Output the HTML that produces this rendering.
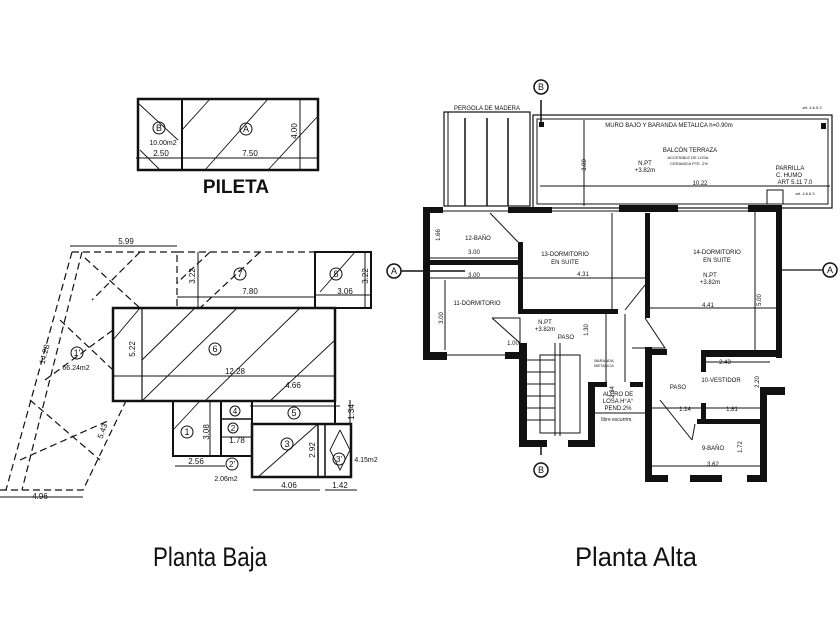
<!DOCTYPE html>
<html><head><meta charset="utf-8"><style>
html,body{margin:0;padding:0;background:#fff}
svg{display:block}
text{font-family:"Liberation Sans",sans-serif;fill:#111}
</style></head><body>
<svg width="840" height="630" viewBox="0 0 840 630" xmlns="http://www.w3.org/2000/svg">
<g stroke="#111" fill="none">
<!-- PILETA -->
<rect x="138" y="99" width="180" height="71" stroke-width="2.5"/>
<line x1="182" y1="99" x2="182" y2="170" stroke-width="2"/>
<line x1="136" y1="158" x2="318" y2="158" stroke-width="1"/>
<line x1="300" y1="99" x2="300" y2="170" stroke-width="1"/>
<g stroke-width="0.9">
<line x1="138" y1="103" x2="178" y2="140"/><line x1="160" y1="170" x2="140" y2="150"/>
<line x1="182" y1="130" x2="210" y2="99"/><line x1="205" y1="170" x2="268" y2="99"/>
<line x1="268" y1="170" x2="318" y2="116"/>
</g>
<circle cx="159" cy="128" r="6" stroke-width="1"/>
<circle cx="246" cy="129" r="6" stroke-width="1"/>
<!-- Planta baja -->
<g stroke-width="1.2" stroke-dasharray="7,4">
<polyline points="72,252 177,252"/>
<polyline points="72,252 6,490"/>
<polyline points="82,252 22,490"/>
<polyline points="0,490 83,490 126,401"/>
<polyline points="113,308 177,308 177,252"/>
<polyline points="177,252 315,252"/>
<line x1="85" y1="258" x2="140" y2="308"/><line x1="140" y1="252" x2="92" y2="300"/>
<line x1="60" y1="320" x2="113" y2="370"/><line x1="45" y1="380" x2="113" y2="330"/>
<line x1="30" y1="400" x2="100" y2="460"/><line x1="20" y1="460" x2="110" y2="420"/>
<line x1="260" y1="252" x2="200" y2="308"/><line x1="210" y1="252" x2="177" y2="283"/>
</g>
<rect x="315" y="252" width="56" height="56" stroke-width="2"/>
<line x1="315" y1="295" x2="371" y2="295" stroke-width="1"/>
<line x1="365" y1="252" x2="365" y2="308" stroke-width="1"/>
<line x1="320" y1="292" x2="355" y2="252" stroke-width="0.9"/>
<line x1="198" y1="252" x2="198" y2="308" stroke-width="1"/>
<line x1="177" y1="297" x2="315" y2="297" stroke-width="1"/>
<rect x="113" y="308" width="222" height="93" stroke-width="2.5"/>
<line x1="142" y1="308" x2="142" y2="401" stroke-width="1.2"/>
<line x1="113" y1="376" x2="335" y2="376" stroke-width="1"/>
<g stroke-width="0.9">
<line x1="142" y1="360" x2="195" y2="308"/><line x1="142" y1="401" x2="237" y2="308"/>
<line x1="205" y1="401" x2="300" y2="308"/><line x1="270" y1="401" x2="335" y2="340"/>
<line x1="113" y1="340" x2="140" y2="308"/>
</g>
<rect x="173" y="401" width="48" height="55" stroke-width="2"/>
<line x1="210" y1="401" x2="210" y2="456" stroke-width="1"/>
<line x1="173" y1="430" x2="200" y2="401" stroke-width="0.9"/>
<rect x="221" y="401" width="31" height="55" stroke-width="2"/>
<line x1="221" y1="419" x2="252" y2="419" stroke-width="1.5"/>
<line x1="221" y1="437" x2="252" y2="437" stroke-width="1"/>
<rect x="252" y="401" width="83" height="23" stroke-width="2"/>
<rect x="252" y="424" width="99" height="53" stroke-width="2.5"/>
<line x1="318" y1="424" x2="318" y2="477" stroke-width="1.5"/>
<line x1="325" y1="424" x2="325" y2="477" stroke-width="1.5"/>
<line x1="258" y1="477" x2="318" y2="424" stroke-width="0.9"/>
<polyline points="340,430 350,450 340,470 330,450 340,430" stroke-width="0.9"/>
<line x1="250" y1="406" x2="340" y2="406" stroke-width="1"/>
<line x1="175" y1="466" x2="225" y2="466" stroke-width="1"/>
<line x1="253" y1="490" x2="320" y2="490" stroke-width="1"/>
<line x1="325" y1="490" x2="357" y2="490" stroke-width="1"/>
<line x1="70" y1="246" x2="177" y2="246" stroke-width="1"/>
<line x1="0" y1="497" x2="83" y2="497" stroke-width="1"/>
<line x1="350" y1="400" x2="350" y2="424" stroke-width="1"/>
<g stroke-width="1"><circle cx="77" cy="353" r="6"/><circle cx="215" cy="349" r="6"/><circle cx="240" cy="274" r="6"/><circle cx="336" cy="274" r="6"/><circle cx="187" cy="432" r="6"/><circle cx="235" cy="411" r="5"/><circle cx="233" cy="428" r="5"/><circle cx="294" cy="413" r="6"/><circle cx="287" cy="444" r="6"/><circle cx="339" cy="459" r="6"/><circle cx="232" cy="464" r="6"/></g>
<!-- Planta alta: pergola & balcony -->
<rect x="444" y="112" width="86" height="94" stroke-width="1.2"/>
<line x1="448" y1="112" x2="448" y2="206" stroke-width="1"/>
<line x1="465" y1="118" x2="465" y2="206" stroke-width="1.5"/>
<line x1="487" y1="118" x2="487" y2="206" stroke-width="1.5"/>
<line x1="508" y1="118" x2="508" y2="206" stroke-width="1.5"/>
<rect x="533" y="115" width="299" height="93" stroke-width="1.2"/>
<rect x="537" y="119" width="291" height="85" stroke-width="1"/>
<line x1="540" y1="186" x2="830" y2="186" stroke-width="1"/>
<line x1="584" y1="120" x2="584" y2="206" stroke-width="1"/>
<rect x="767" y="190" width="16" height="14" stroke-width="1"/>
<line x1="541" y1="100" x2="541" y2="125" stroke-width="1.5"/>
<line x1="541" y1="455" x2="541" y2="440" stroke-width="1.5"/>
<circle cx="541" cy="87" r="7" stroke-width="1.5"/>
<circle cx="541" cy="470" r="7" stroke-width="1.5"/>
<circle cx="394" cy="271" r="7" stroke-width="1.5"/>
<circle cx="830" cy="270" r="7" stroke-width="1.5"/>
<line x1="401" y1="271" x2="465" y2="271" stroke-width="1.5"/>
<line x1="782" y1="270" x2="823" y2="270" stroke-width="1.2"/>
<!-- thin interior lines -->
<g stroke-width="1">
<line x1="430" y1="211" x2="780" y2="211"/>
<line x1="430" y1="278" x2="645" y2="278"/>
<line x1="650" y1="308" x2="778" y2="308"/>
<line x1="430" y1="258" x2="518" y2="258"/>
<line x1="443" y1="355" x2="505" y2="355"/>
<line x1="445" y1="280" x2="445" y2="350"/>
<line x1="612" y1="213" x2="612" y2="309"/>
<line x1="755" y1="212" x2="755" y2="350"/>
<line x1="606" y1="314" x2="606" y2="382"/>
<line x1="625" y1="314" x2="625" y2="382"/>
<line x1="706" y1="362" x2="770" y2="362"/>
<line x1="652" y1="408" x2="760" y2="408"/>
<line x1="652" y1="466" x2="760" y2="466"/>
<line x1="595" y1="413" x2="645" y2="413"/>
<polyline points="492,318 520,318 520,343"/><line x1="492" y1="318" x2="520" y2="343"/>
<line x1="490" y1="213" x2="518" y2="242"/>
<polyline points="645,318 665,348 632,348"/>
<line x1="645" y1="285" x2="625" y2="310"/>
<line x1="660" y1="400" x2="692" y2="440"/><line x1="692" y1="440" x2="695" y2="424"/>
<rect x="540" y="355" width="40" height="78"/>
<line x1="555" y1="343" x2="555" y2="436"/><line x1="560" y1="343" x2="560" y2="436"/>
<line x1="527" y1="360" x2="555" y2="360"/><line x1="527" y1="372" x2="555" y2="372"/>
<line x1="527" y1="384" x2="555" y2="384"/><line x1="527" y1="396" x2="555" y2="396"/>
<line x1="527" y1="408" x2="555" y2="408"/><line x1="527" y1="420" x2="555" y2="420"/>
<line x1="427" y1="235" x2="427" y2="258"/><line x1="427" y1="280" x2="427" y2="350"/>
</g>
</g>
<!-- thick walls -->
<g fill="#111">
<rect x="423" y="207" width="7" height="153"/>
<rect x="423" y="207" width="20" height="6"/>
<rect x="508" y="207" width="44" height="6"/>
<rect x="619" y="205" width="59" height="7"/>
<rect x="748" y="205" width="34" height="7"/>
<rect x="776" y="205" width="6" height="153"/>
<rect x="701" y="350" width="81" height="7"/>
<rect x="701" y="350" width="5" height="22"/>
<rect x="427" y="260" width="93" height="5"/>
<rect x="518" y="242" width="5" height="72"/>
<rect x="520" y="309" width="98" height="5"/>
<rect x="645" y="213" width="5" height="105"/>
<rect x="423" y="352" width="24" height="8"/>
<rect x="505" y="352" width="15" height="7"/>
<rect x="519" y="343" width="8" height="104"/>
<rect x="519" y="440" width="28" height="7"/>
<rect x="568" y="440" width="27" height="7"/>
<rect x="588" y="382" width="7" height="65"/>
<rect x="588" y="382" width="19" height="5"/>
<rect x="630" y="382" width="13" height="5"/>
<rect x="645" y="347" width="7" height="135"/>
<rect x="645" y="349" width="22" height="6"/>
<rect x="645" y="475" width="23" height="7"/>
<rect x="690" y="475" width="32" height="7"/>
<rect x="747" y="475" width="20" height="7"/>
<rect x="760" y="387" width="7" height="95"/>
<rect x="760" y="387" width="25" height="8"/>
<rect x="697" y="419" width="63" height="5"/>
<rect x="701" y="403" width="5" height="21"/>
<rect x="539" y="122" width="5" height="5"/><rect x="821" y="123" width="5" height="6"/>
</g>
<!-- texts -->
<g font-size="9" text-anchor="middle">
<text x="159" y="131">B</text><text x="246" y="132">A</text>
<text x="163" y="145" font-size="7">10.00m2</text>
<text x="161" y="156" font-size="8">2.50</text><text x="250" y="156" font-size="8">7.50</text>
<text transform="translate(297,131) rotate(-90)" font-size="8">4.00</text>
<text x="236" y="193" font-size="19" font-weight="bold">PILETA</text>
<text x="77" y="356">1'</text><text x="76" y="370" font-size="7">66.24m2</text>
<text x="215" y="352">6</text><text x="240" y="277">7</text><text x="336" y="277">8</text>
<text x="187" y="435">1</text><text x="235" y="414" font-size="8">4</text><text x="233" y="431" font-size="8">2</text>
<text x="294" y="416">5</text><text x="287" y="447">3</text><text x="339" y="462" font-size="8">3'</text><text x="232" y="467" font-size="8">2'</text>
<g font-size="8">
<text x="126" y="244">5.99</text><text x="250" y="294">7.80</text><text x="345" y="294">3.06</text>
<text x="235" y="374">12.28</text><text x="293" y="388">4.66</text><text x="237" y="443">1.78</text>
<text x="196" y="464">2.56</text><text x="289" y="488">4.06</text><text x="340" y="488">1.42</text>
<text x="40" y="499">4.96</text><text x="226" y="481" font-size="7">2.06m2</text><text x="366" y="462" font-size="7">4.15m2</text>
<text transform="translate(195,276) rotate(-90)">3.22</text><text transform="translate(368,276) rotate(-90)">3.22</text>
<text transform="translate(135,349) rotate(-90)">5.22</text><text transform="translate(209,432) rotate(-90)">3.08</text>
<text transform="translate(315,450) rotate(-90)">2.92</text><text transform="translate(354,412) rotate(-90)">1.34</text>
<text transform="translate(47,355) rotate(-75)">14.28</text><text transform="translate(105,432) rotate(-70)">5.43</text>
</g>
<text x="394" y="274">A</text><text x="830" y="273">A</text><text x="541" y="90">B</text><text x="541" y="473">B</text>
<g font-size="6">
<text x="487" y="110">PERGOLA DE MADERA</text>
<text x="669" y="127">MURO BAJO Y BARANDA METALICA h=0.90m</text>
<text x="690" y="152">BALCÓN TERRAZA</text>
<text x="688" y="159" font-size="4">ACCESIBLE DE LOSA</text>
<text x="689" y="165" font-size="4">CERAMICA PTE. 2%</text>
<text x="790" y="170">PARRILLA</text><text x="789" y="177">C. HUMO</text><text x="795" y="184">ART 5.11 7.0</text>
<text x="812" y="109" font-size="4">art. 4.6.5.3</text><text x="805" y="195" font-size="4">art. 4.6.5.3</text>
<text x="645" y="165">N.PT</text><text x="645" y="172">+3.82m</text>
<text x="700" y="185">10.22</text>
<text x="478" y="240">12-BAÑO</text>
<text x="565" y="256">13-DORMITORIO</text><text x="565" y="264">EN SUITE</text>
<text x="717" y="254">14-DORMITORIO</text><text x="717" y="262">EN SUITE</text>
<text x="710" y="277">N.PT</text><text x="710" y="284">+3.82m</text>
<text x="477" y="305">11-DORMITORIO</text>
<text x="545" y="324">N.PT</text><text x="545" y="331">+3.82m</text>
<text x="566" y="339">PASO</text><text x="678" y="389">PASO</text>
<text x="721" y="382">10-VESTIDOR</text><text x="713" y="450">9-BAÑO</text>
<text x="618" y="396">ALERO DE</text><text x="618" y="403">LOSA H°A°</text><text x="618" y="410">PEND.2%</text>
<text x="617" y="421" font-size="5">libre escurrim.</text>
<text x="604" y="362" font-size="4">BARANDA</text><text x="604" y="367" font-size="4">METALICA</text>
<text x="474" y="254">3.00</text><text x="474" y="277">3.00</text><text x="583" y="276">4.31</text>
<text x="708" y="307">4.41</text><text x="513" y="345">1.00</text><text x="725" y="364">2.43</text>
<text x="685" y="411">1.14</text><text x="732" y="411">1.81</text><text x="713" y="466">3.62</text>
<text transform="translate(586,165) rotate(-90)">3.00</text><text transform="translate(443,318) rotate(-90)">3.00</text>
<text transform="translate(761,300) rotate(-90)">5.00</text><text transform="translate(614,392) rotate(-90)">2.34</text>
<text transform="translate(588,330) rotate(-90)">1.30</text><text transform="translate(440,235) rotate(-90)">1.66</text>
<text transform="translate(742,447) rotate(-90)">1.72</text><text transform="translate(759,382) rotate(-90)">2.20</text>
</g>
</g>
<g font-size="27" font-family="Liberation Sans,sans-serif">
<text x="153" y="566" textLength="114" lengthAdjust="spacingAndGlyphs">Planta Baja</text>
<text x="575" y="566" textLength="122" lengthAdjust="spacingAndGlyphs">Planta Alta</text>
</g>
</svg>
</body></html>
